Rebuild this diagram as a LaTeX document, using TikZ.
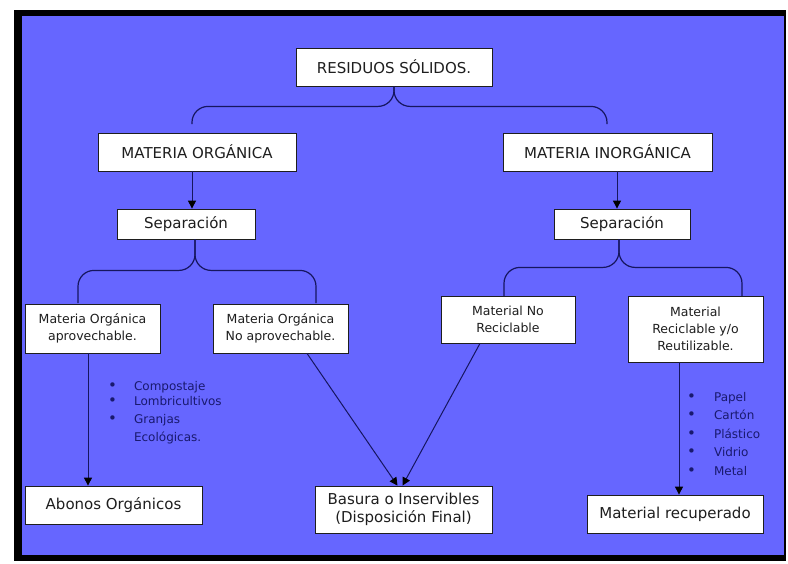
\documentclass[tikz,border=0pt]{standalone}
\usepackage{fontspec}
\setmainfont{DejaVu Sans}
\usetikzlibrary{arrows.meta}
\definecolor{fondo}{RGB}{102,102,255}
\definecolor{linea}{RGB}{22,22,95}
\definecolor{texto}{RGB}{30,30,30}
\definecolor{lista}{RGB}{25,25,110}
\newcommand{\punto}{{\fontsize{15}{15}\selectfont\textbullet}}
\tikzset{
  caja/.style={draw=texto, fill=white, text=texto, line width=0.8pt, inner sep=0pt,
    align=center, font=\fontsize{15}{18}\selectfont},
  cajita/.style={caja, font=\fontsize{12.5}{17}\selectfont},
  rama/.style={draw=linea, line width=1.2pt, rounded corners=16pt},
  flecha/.style={draw=linea, line width=1pt, -{Triangle[length=8pt,width=8pt,color=black]}},
  lista/.style={text=lista, inner sep=0pt, anchor=north west, font=\fontsize{12}{15}\selectfont}
}
\begin{document}
\begin{tikzpicture}[x=1pt,y=-1pt]
        \useasboundingbox (0,0) rectangle (788,563);
        % marco
        \fill[black] (14,10) rectangle (786,561);
        \fill[fondo] (22,16) rectangle (784,555);
        % cajas
        \node[caja, minimum width=196pt, minimum height=38pt] (RS) at (394,67) {RESIDUOS SÓLIDOS.};
        \node[caja, minimum width=198pt, minimum height=38pt] (MO) at (197,152) {MATERIA ORGÁNICA};
        \node[caja, minimum width=209pt, minimum height=38pt] (MI) at (607.5,152) {MATERIA INORGÁNICA};
        \node[caja, minimum width=138pt, minimum height=30pt] (S1) at (186,224) {Separación};
        \node[caja, minimum width=136pt, minimum height=30pt] (S2) at (622,224) {Separación};
        \node[cajita, minimum width=135pt, minimum height=49pt] (MOA) at (92.5,328.5) {Materia Orgánica\\aprovechable.};
        \node[cajita, minimum width=135pt, minimum height=49pt] (MON) at (280.5,328.5) {Materia Orgánica\\No aprovechable.};
        \node[cajita, minimum width=134pt, minimum height=47pt] (MNR) at (508,319.5) {Material No\\Reciclable};
        \node[cajita, minimum width=135pt, minimum height=66pt] (MRR) at (695.5,329) {Material\\Reciclable y/o\\Reutilizable.};
        \node[caja, minimum width=177pt, minimum height=38pt] (AO) at (113.5,505) {Abonos Orgánicos};
        \node[caja, minimum width=177pt, minimum height=47pt] (BI) at (403.5,509.5) {Basura o Inservibles\\(Disposición Final)};
        \node[caja, minimum width=176pt, minimum height=38pt] (MR) at (675,514) {Material recuperado};
        % llaves
        \coordinate (RSi) at (192,124);
        \coordinate (RSd) at (607,124);
        \coordinate (S1i) at (78,303);
        \coordinate (S1d) at (316,303);
        \coordinate (S2i) at (504,296);
        \coordinate (S2d) at (742,296);
        \draw[rama] (RS.south) -- ++(0,20) -| (RSi);
        \draw[rama] (RS.south) -- ++(0,20) -| (RSd);
        \draw[rama] ([xshift=9pt]S1.south) -- ++(0,31) -| (S1i);
        \draw[rama] ([xshift=9pt]S1.south) -- ++(0,31) -| (S1d);
        \draw[rama] ([xshift=-3pt]S2.south) -- ++(0,28) -| (S2i);
        \draw[rama] ([xshift=-3pt]S2.south) -- ++(0,28) -| (S2d);
        % flechas
        \path ([xshift=-5pt]MO.south) edge [flecha] ([xshift=6pt]S1.north);
        \path ([xshift=9.5pt]MI.south) edge [flecha] ([xshift=-5pt]S2.north);
        \path ([xshift=-4.5pt]MOA.south) edge [flecha] ([xshift=-25.5pt]AO.north);
        \path ([xshift=26.5pt]MON.south) edge [flecha] ([xshift=-6pt]BI.north);
        \path ([xshift=-28pt]MNR.south) edge [flecha] ([xshift=-1pt]BI.north);
        \path ([xshift=-16.5pt]MRR.south) edge [flecha] ([xshift=4pt]MR.north);
        % listas
        \node[lista] (LO) at (108,379.5) {\begin{tabular}{@{}c@{\hspace{17pt}}l@{}}
          \punto & Compostaje\\
          \punto & Lombricultivos\\[3pt]
          \punto & Granjas\\[3pt]
                 & Ecológicas.
        \end{tabular}};
        \node[lista] (LI) at (687,390.5) {\begin{tabular}{@{}c@{\hspace{18pt}}l@{}}
          \punto & Papel\\[3.5pt]
          \punto & Cartón\\[3.5pt]
          \punto & Plástico\\[3.5pt]
          \punto & Vidrio\\[3.5pt]
          \punto & Metal
        \end{tabular}};
      \end{tikzpicture}
\end{document}
